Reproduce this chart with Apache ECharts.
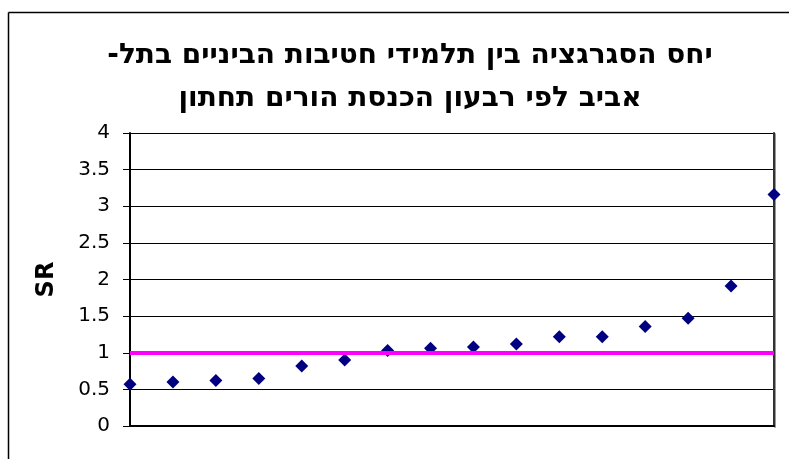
<!DOCTYPE html>
<html>
<head>
<meta charset="utf-8">
<script src="https://cdn.jsdelivr.net/npm/echarts@6/dist/echarts.min.js"></script>
<style>
  html, body { margin: 0; padding: 0; background: #fff; }
  #chart { width: 789px; height: 459px; }
</style>
</head>
<body>
<div id="chart"></div>
<script>
// Schools ordered by segregation ratio (lowest parental-income quartile)
const categories = ['1','2','3','4','5','6','7','8','9','10','11','12','13','14','15','16'];
const srValues = [0.57, 0.60, 0.62, 0.65, 0.82, 0.90, 1.03, 1.06, 1.08, 1.12, 1.22, 1.22, 1.36, 1.47, 1.91, 3.16];
const yTicks = [0, 0.5, 1, 1.5, 2, 2.5, 3, 3.5, 4];
const parityLevel = 1;
const titleLines = ['יחס הסגרגציה בין תלמידי חטיבות הביניים בתל-\u200F', 'אביב לפי רבעון הכנסת הורים תחתון'];

const FONT = '"DejaVu Sans", Arial, sans-serif';
const chart = echarts.init(document.getElementById('chart'), null, { renderer: 'canvas' });

chart.setOption({
  animation: false,
  backgroundColor: '#ffffff',
  title: {
    text: titleLines.join('\n'),
    left: 405,
    top: 29,
    textAlign: 'center',
    textStyle: { fontFamily: FONT, fontSize: 28, fontWeight: 'bold', color: '#000', lineHeight: 43 }
  },
  grid: { left: 130, right: 15, top: 133, bottom: 33 },
  xAxis: {
    type: 'category',
    data: categories,
    boundaryGap: false,
    axisLine: { show: true, lineStyle: { color: '#000', width: 2 } },
    axisTick: { show: false },
    axisLabel: { show: false },
    splitLine: { show: false }
  },
  yAxis: [{
    type: 'value',
    min: yTicks[0],
    max: yTicks[yTicks.length - 1],
    interval: yTicks[1] - yTicks[0],
    name: 'SR',
    nameLocation: 'middle',
    nameGap: 71,
    nameRotate: 90,
    nameTextStyle: { fontFamily: FONT, fontSize: 24, fontWeight: 'bold', color: '#000' },
    axisLine: { show: true, lineStyle: { color: '#000', width: 2 } },
    axisTick: { show: true, inside: false, length: 7, lineStyle: { color: '#000', width: 1 } },
    axisLabel: { fontFamily: FONT, fontSize: 20, color: '#000', margin: 20 },
    splitLine: { show: true, lineStyle: { color: '#000', width: 1 } }
  }, {
    type: 'value',
    position: 'right',
    min: yTicks[0],
    max: yTicks[yTicks.length - 1],
    interval: yTicks[1] - yTicks[0],
    axisLine: { show: true, lineStyle: { color: '#333', width: 2, shadowColor: '#999', shadowOffsetX: 1, shadowOffsetY: 1 } },
    axisTick: { show: false },
    axisLabel: { show: false },
    splitLine: { show: false }
  }],
  series: [{
    type: 'line',
    data: [],
    z: 1,
    markLine: {
      silent: true,
      symbol: 'none',
      label: { show: false },
      lineStyle: { color: '#ff00ff', width: 4, type: 'solid' },
      data: [{ yAxis: parityLevel }]
    }
  }, {
    type: 'scatter',
    data: srValues,
    z: 3,
    symbol: 'diamond',
    symbolSize: 13,
    itemStyle: { color: '#000080', opacity: 1 }
  }],
  graphic: [
    { type: 'line', shape: { x1: 8.5, y1: 12.5, x2: 789, y2: 12.5 }, style: { stroke: '#000', lineWidth: 1.5 } },
    { type: 'line', shape: { x1: 8.5, y1: 12.5, x2: 8.5, y2: 459 }, style: { stroke: '#000', lineWidth: 1.5 } }
  ]
});
</script>
</body>
</html>
